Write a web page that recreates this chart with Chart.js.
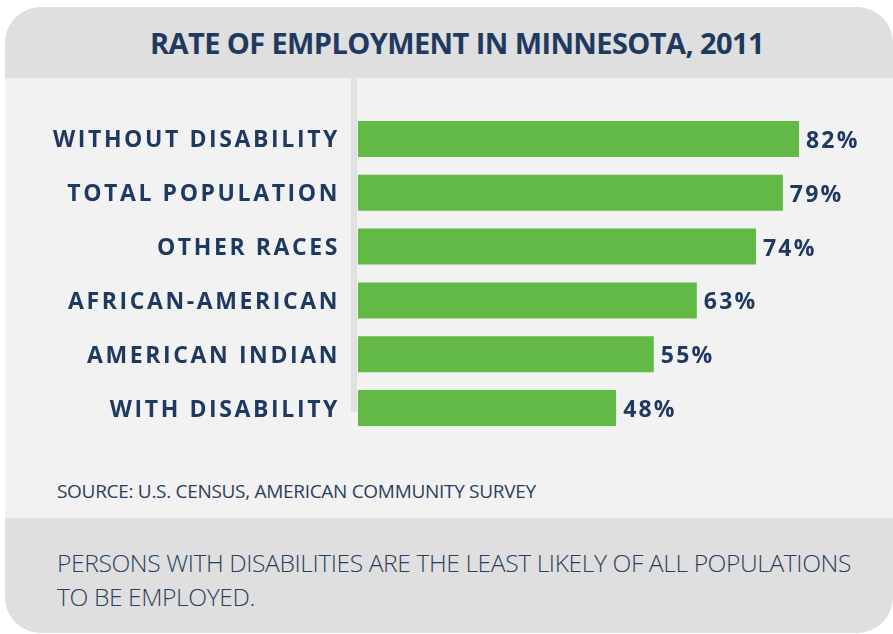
<!DOCTYPE html>
<html>
<head>
<meta charset="utf-8">
<script src="https://cdn.jsdelivr.net/npm/chart.js@4.4.1/dist/chart.umd.min.js"></script>
<style>
  body { margin: 0; background: #ffffff; width: 893px; height: 634px; overflow: hidden; font-family: "Open Sans", sans-serif; }
  .card { position: absolute; left: 5px; top: 7px; width: 888px; height: 626px; border-radius: 36px; background: #f2f2f2; overflow: hidden; }
  .head { position: absolute; left: 0; top: 0; width: 100%; height: 71px; background: #dfdfdf; }
  .head h1 { margin: 0; position: absolute; left: 0; width: 100%; top: 17px; text-align: center; padding-left: 16px; box-sizing: border-box;
             font-size: 29px; font-weight: 700; color: #1f3a60; letter-spacing: -0.6px; line-height: 38px; }
  .foot { position: absolute; left: 0; top: 511px; width: 100%; height: 115px; background: #dfdfdf; }
  .foot p { margin: 0; position: absolute; left: 52px; top: 28px; font-size: 24.6px; font-weight: 300; color: #2a3f5f; line-height: 34px; letter-spacing: -0.4px; white-space: nowrap; }
  .source { position: absolute; left: 52px; top: 472px; font-size: 19px; line-height: 24px; color: #2a3f5f; letter-spacing: -0.3px; white-space: nowrap; }
  .divider { position: absolute; left: 346px; top: 71px; width: 6px; height: 334px; background: #e1e1e1; }
  #chartBox { position: absolute; left: 0; top: 78px; }
</style>
</head>
<body>
<div class="card">
  <div class="head"><h1>RATE OF EMPLOYMENT IN MINNESOTA, 2011</h1></div>
  <div class="divider"></div>
  <div class="source">SOURCE: U.S. CENSUS, AMERICAN COMMUNITY SURVEY</div>
  <div class="foot"><p>PERSONS WITH DISABILITIES ARE THE LEAST LIKELY OF ALL POPULATIONS<br>TO BE EMPLOYED.</p></div>
</div>
<div id="chartBox"><canvas id="myChart" width="893" height="380"></canvas></div>

<script>
const groups = ["WITHOUT DISABILITY", "TOTAL POPULATION", "OTHER RACES", "AFRICAN-AMERICAN", "AMERICAN INDIAN", "WITH DISABILITY"];
const rates = [82, 79, 74, 63, 55, 48];

const navy = "#1f3a60";
const green = "#63b946";

// canvas letter spacing gets reset when the canvas resizes, so set it each pass
const spacing = {
  id: "spacing",
  beforeLayout(chart) { chart.ctx.letterSpacing = "2.6px"; },
  beforeDraw(chart) { chart.ctx.letterSpacing = "2.6px"; }
};

const valueLabels = {
  id: "valueLabels",
  afterDatasetsDraw(chart) {
    const ctx = chart.ctx;
    const meta = chart.getDatasetMeta(0);
    ctx.save();
    ctx.letterSpacing = "2.2px";
    ctx.font = "bold 23px 'Open Sans'";
    ctx.fillStyle = navy;
    ctx.textAlign = "left";
    ctx.textBaseline = "middle";
    meta.data.forEach((bar, i) => {
      ctx.fillText(rates[i] + "%", bar.x + 7, bar.y + 2.5);
    });
    ctx.restore();
  }
};

new Chart(document.getElementById("myChart"), {
  type: "bar",
  data: {
    labels: groups,
    datasets: [{
      data: rates,
      backgroundColor: green,
      borderWidth: 0,
      barPercentage: 0.67,
      categoryPercentage: 1
    }]
  },
  options: {
    indexAxis: "y",
    responsive: false,
    animation: false,
    devicePixelRatio: 1,
    layout: { padding: { top: 34, bottom: 23, left: 0, right: 51 } },
    plugins: { legend: { display: false }, tooltip: { enabled: false } },
    scales: {
      x: { min: 0, max: 90, display: false },
      y: {
        afterFit(axis) {
          axis.width = 358;
          axis.paddingTop = 0;
          axis.paddingBottom = 0;
        },
        grid: { display: false, drawTicks: false },
        border: { display: false },
        ticks: {
          padding: 18,
          labelOffset: 2,
          color: navy,
          font: { family: "'Open Sans'", size: 23, weight: "bold" }
        }
      }
    }
  },
  plugins: [spacing, valueLabels]
});
</script>
</body>
</html>
